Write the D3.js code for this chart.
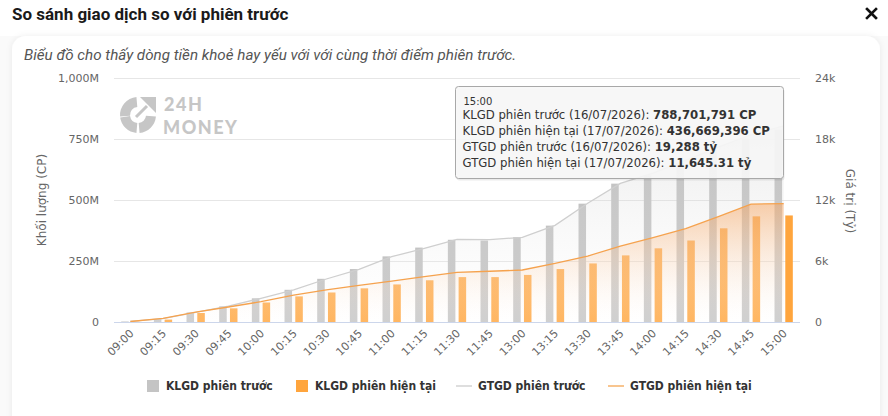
<!DOCTYPE html>
<html>
<head>
<meta charset="utf-8">
<script src="https://cdn.jsdelivr.net/npm/d3@7/dist/d3.min.js"></script>
<style>
  body { margin: 0; background: #fafafa; }
  svg { display: block; }
</style>
</head>
<body>
<svg id="chart" width="888" height="416"></svg>
<script>
// time slots of the session
const times = ['09:00', '09:15', '09:30', '09:45', '10:00', '10:15', '10:30', '10:45', '11:00', '11:15',
  '11:30', '11:45', '13:00', '13:15', '13:30', '13:45', '14:00', '14:15', '14:30', '14:45', '15:00'];

// KLGD (millions of shares)
const klgdPrev = [2, 12, 39, 64, 97, 132, 177, 217, 269, 305, 337, 334, 348, 395, 485, 567, 600, 652, 705, 752, 788.701791];
const klgdCur = [1, 10, 37, 56, 80, 105, 121, 138, 154, 171, 184, 184, 193, 217, 240, 273, 302, 334, 384, 433, 436.669396];

// GTGD (ty dong)
const gtgdPrev = [60, 330, 950, 1570, 2330, 3150, 4230, 5180, 6425, 7250, 8130, 8100, 8330, 9510, 11675, 13640, 14650, 15900, 17200, 18400, 19288];
const gtgdCur = [50, 360, 980, 1475, 2000, 2650, 3150, 3600, 4030, 4460, 4890, 4990, 5115, 5770, 6490, 7475, 8290, 9180, 10360, 11600, 11645.31];

const leftTicks = [0, 250, 500, 750, 1000];
const rightTicks = [0, 6000, 12000, 18000, 24000];
const prevDate = '16/07/2026';
const curDate = '17/07/2026';
const hoverIndex = 20;

const seriesNames = ['KLGD phiên trước', 'KLGD phiên hiện tại', 'GTGD phiên trước', 'GTGD phiên hiện tại'];
const colors = {
  barPrev: '#c4c4c4',
  barCur: '#ffa53d',
  linePrev: '#cfcfcf',
  lineCur: '#f5a24e'
};

const svg = d3.select('#chart');
const axisFont = '"DejaVu Sans", Verdana, sans-serif';

// page header + card
const defs = svg.append('defs');
const shadow = defs.append('filter').attr('id', 'cardShadow')
  .attr('x', '-5%').attr('y', '-5%').attr('width', '110%').attr('height', '110%');
shadow.append('feDropShadow').attr('dx', 0).attr('dy', 0).attr('stdDeviation', 3)
  .attr('flood-color', '#000').attr('flood-opacity', 0.07);

svg.append('rect').attr('width', 888).attr('height', 36).attr('fill', '#fff');
svg.append('text')
  .attr('x', 12).attr('y', 20)
  .attr('font-family', 'Roboto, sans-serif').attr('font-weight', 700).attr('font-size', 17)
  .attr('fill', '#1a1a1a')
  .text('So sánh giao dịch so với phiên trước');
svg.append('path')
  .attr('d', 'M867,9 L876,18 M876,9 L867,18')
  .attr('stroke', '#111').attr('stroke-width', 2.6).attr('stroke-linecap', 'square');

svg.append('rect')
  .attr('x', 12).attr('y', 36).attr('width', 868).attr('height', 400).attr('rx', 14)
  .attr('fill', '#fff').attr('filter', 'url(#cardShadow)');
svg.append('text')
  .attr('x', 24).attr('y', 60)
  .attr('font-family', 'Roboto, sans-serif').attr('font-style', 'italic').attr('font-size', 15.2)
  .attr('fill', '#555')
  .text('Biểu đồ cho thấy dòng tiền khoẻ hay yếu với với cùng thời điểm phiên trước.');

// scales
const plot = {left: 114, right: 800, top: 78, bottom: 322};
const x = d3.scaleBand().domain(times).range([plot.left, plot.right]);
const x1 = d3.scaleBand().domain(['prev', 'cur'])
  .range([x.bandwidth() * 0.22, x.bandwidth() * 0.78]).paddingInner(0.3);
const yL = d3.scaleLinear().domain([0, 1000]).range([plot.bottom, plot.top]);
const yR = d3.scaleLinear().domain([0, 24000]).range([plot.bottom, plot.top]);
const cx = t => x(t) + x.bandwidth() / 2;

// watermark logo
const logo = svg.append('g').attr('transform', 'translate(138,115)').attr('fill', '#c6c6c6');
const ring = d3.arc().innerRadius(8).outerRadius(18);
[[-95, -5], [95, 175], [185, 262]].forEach(a => {
  logo.append('path').attr('d', ring({startAngle: a[0] * Math.PI / 180, endAngle: a[1] * Math.PI / 180}));
});
logo.append('path').attr('d', 'M18,-2 L18,-18 L2,-18 Z');
logo.append('path').attr('d', 'M-2,2 L9,-9').attr('stroke', '#c6c6c6').attr('stroke-width', 3);
const logoText = svg.append('text')
  .attr('font-family', 'Lato, sans-serif').attr('font-weight', 900).attr('font-size', 18)
  .attr('letter-spacing', 1.5)
  .attr('fill', '#c6c6c6');
logoText.append('tspan').attr('x', 164).attr('y', 111).text('24H');
logoText.append('tspan').attr('x', 163).attr('y', 134).text('MONEY');

// grid
svg.append('g').selectAll('line')
  .data(leftTicks.slice(1))
  .join('line')
  .attr('x1', plot.left).attr('x2', plot.right)
  .attr('y1', d => Math.round(yL(d)) + 0.5).attr('y2', d => Math.round(yL(d)) + 0.5)
  .attr('stroke', '#e6e6e6');

// bars
const barG = svg.append('g');
barG.selectAll('rect.prev')
  .data(times)
  .join('rect')
  .attr('class', 'prev')
  .attr('x', (d, i) => x(d) + x1('prev'))
  .attr('width', x1.bandwidth())
  .attr('y', (d, i) => yL(klgdPrev[i]))
  .attr('height', (d, i) => plot.bottom - yL(klgdPrev[i]))
  .attr('fill', colors.barPrev);
barG.selectAll('rect.cur')
  .data(times)
  .join('rect')
  .attr('class', 'cur')
  .attr('x', (d, i) => x(d) + x1('cur'))
  .attr('width', x1.bandwidth())
  .attr('y', (d, i) => yL(klgdCur[i]))
  .attr('height', (d, i) => plot.bottom - yL(klgdCur[i]))
  .attr('fill', colors.barCur);

// area gradients
const gPrev = defs.append('linearGradient').attr('id', 'gPrev').attr('x1', 0).attr('y1', 0).attr('x2', 0).attr('y2', 1);
gPrev.append('stop').attr('offset', 0).attr('stop-color', '#bdbdbd').attr('stop-opacity', 0.3);
gPrev.append('stop').attr('offset', 1).attr('stop-color', '#ffffff').attr('stop-opacity', 0.1);
const gCur = defs.append('linearGradient').attr('id', 'gCur').attr('x1', 0).attr('y1', 0).attr('x2', 0).attr('y2', 1);
gCur.append('stop').attr('offset', 0).attr('stop-color', '#f7a35c').attr('stop-opacity', 0.5);
gCur.append('stop').attr('offset', 1).attr('stop-color', '#ffffff').attr('stop-opacity', 0.1);

const area = vals => d3.area()
  .x((d, i) => cx(times[i]))
  .y0(plot.bottom)
  .y1((d, i) => yR(vals[i]))(vals);
const line = vals => d3.line()
  .x((d, i) => cx(times[i]))
  .y((d, i) => yR(vals[i]))(vals);

svg.append('path').attr('d', area(gtgdPrev)).attr('fill', 'url(#gPrev)');
svg.append('path').attr('d', area(gtgdCur)).attr('fill', 'url(#gCur)');
svg.append('path').attr('d', line(gtgdPrev)).attr('fill', 'none').attr('stroke', colors.linePrev).attr('stroke-width', 1.3);
svg.append('path').attr('d', line(gtgdCur)).attr('fill', 'none').attr('stroke', colors.lineCur).attr('stroke-width', 1.3);

// axes
const styleAxis = g => {
  g.select('.domain').remove();
  g.selectAll('.tick line').remove();
  g.selectAll('text').attr('font-family', axisFont).attr('font-size', 11).attr('fill', '#666');
};
svg.append('g')
  .attr('transform', `translate(${plot.left},0)`)
  .call(d3.axisLeft(yL).tickValues(leftTicks).tickSize(0).tickPadding(15)
    .tickFormat(d => d === 0 ? '0' : d3.format(',')(d) + 'M'))
  .call(styleAxis);
svg.append('g')
  .attr('transform', `translate(${plot.right},0)`)
  .call(d3.axisRight(yR).tickValues(rightTicks).tickSize(0).tickPadding(15)
    .tickFormat(d => d === 0 ? '0' : d / 1000 + 'k'))
  .call(styleAxis);

const xAxis = svg.append('g')
  .attr('transform', `translate(0,${plot.bottom})`)
  .call(d3.axisBottom(x).tickSize(0).tickPadding(0));
xAxis.select('.domain').attr('stroke', '#ccd6eb').attr('d', `M${plot.left},0.5H${plot.right}`);
xAxis.selectAll('text')
  .attr('font-family', axisFont).attr('font-size', 11).attr('fill', '#666')
  .attr('text-anchor', 'end')
  .attr('dy', 0).attr('y', 0).attr('x', 0)
  .attr('transform', 'translate(4,12) rotate(-45)');

// axis titles
svg.append('text')
  .attr('transform', 'translate(46,200) rotate(-90)')
  .attr('text-anchor', 'middle')
  .attr('font-family', axisFont).attr('font-size', 12).attr('fill', '#666')
  .text('Khối lượng (CP)');
svg.append('text')
  .attr('transform', 'translate(846,201) rotate(90)')
  .attr('text-anchor', 'middle')
  .attr('font-family', axisFont).attr('font-size', 12).attr('fill', '#666')
  .text('Giá trị (Tỷ)');

// legend
const legendItems = [
  {name: seriesNames[0], color: colors.barPrev, type: 'rect', x: 147},
  {name: seriesNames[1], color: colors.barCur, type: 'rect', x: 296},
  {name: seriesNames[2], color: '#dedede', type: 'line', x: 456},
  {name: seriesNames[3], color: '#f8c58f', type: 'line', x: 608}
];
const legend = svg.append('g').attr('transform', 'translate(0,386)');
legendItems.forEach(it => {
  const g = legend.append('g').attr('transform', `translate(${it.x},0)`);
  if (it.type === 'rect') {
    g.append('rect').attr('x', 0).attr('y', -6).attr('width', 12).attr('height', 12).attr('fill', it.color);
  } else {
    g.append('line').attr('x1', 0).attr('x2', 16).attr('y1', 0).attr('y2', 0)
      .attr('stroke', it.color).attr('stroke-width', 2);
  }
  g.append('text')
    .attr('x', it.type === 'rect' ? 19 : 22).attr('y', 4)
    .attr('font-family', '"DejaVu Sans Condensed", "DejaVu Sans", sans-serif')
    .attr('font-weight', 700).attr('font-size', 12).attr('fill', '#333')
    .text(it.name);
});

// tooltip for the hovered point
const tip = svg.append('g').attr('transform', 'translate(455.5,86.5)');
tip.append('rect')
  .attr('x', 1).attr('y', 2).attr('width', 328).attr('height', 92).attr('rx', 3)
  .attr('fill', 'rgba(0,0,0,0.08)');
tip.append('rect')
  .attr('width', 328).attr('height', 92).attr('rx', 3)
  .attr('fill', 'rgba(247,247,247,0.92)').attr('stroke', '#a8a8a8');
const fmt = d3.format(',');
const tipLines = [
  [`KLGD phiên trước (${prevDate}): `, fmt(Math.round(klgdPrev[hoverIndex] * 1e6)) + ' CP'],
  [`KLGD phiên hiện tại (${curDate}): `, fmt(Math.round(klgdCur[hoverIndex] * 1e6)) + ' CP'],
  [`GTGD phiên trước (${prevDate}): `, fmt(gtgdPrev[hoverIndex]) + ' tỷ'],
  [`GTGD phiên hiện tại (${curDate}): `, fmt(gtgdCur[hoverIndex]) + ' tỷ']
];
tip.append('text').attr('x', 8).attr('y', 18)
  .attr('font-family', axisFont).attr('font-size', 10).attr('fill', '#333')
  .text(times[hoverIndex]);
tipLines.forEach((l, i) => {
  const t = tip.append('text').attr('x', 7).attr('y', 32 + i * 16)
    .attr('font-family', axisFont).attr('font-size', 11.7).attr('fill', '#333');
  t.append('tspan').text(l[0]);
  t.append('tspan').attr('font-weight', 700).text(l[1]);
});
</script>
</body>
</html>
